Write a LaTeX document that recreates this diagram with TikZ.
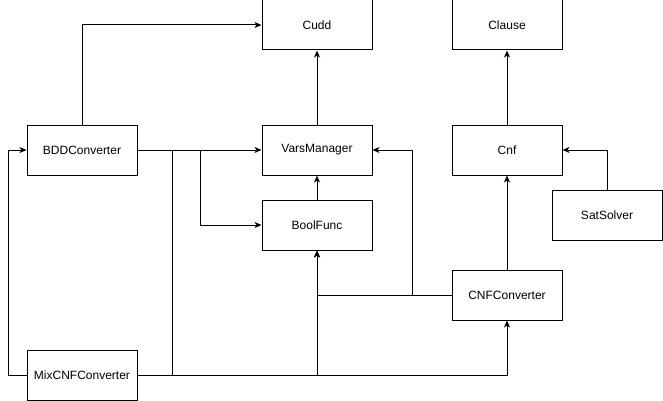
\documentclass[tikz,border=0pt]{standalone}
\usepackage{fontspec}
\setmainfont{Liberation Sans}
\usetikzlibrary{arrows.meta}

\begin{document}
\begin{tikzpicture}[x=1pt, y=-1pt, line width=1pt,
    font=\fontsize{12}{14}\selectfont,
    cls/.style={draw, fill=white, minimum width=110pt, minimum height=50pt, inner sep=0pt},
    dep/.style={-{Stealth[length=7pt, width=6pt, inset=2pt]}}]
    \useasboundingbox (0,0) rectangle (663,401);
    % classes
    \node[cls] (cudd) at (317,25) {Cudd};
    \node[cls] (clause) at (507,25) {Clause};
    \node[cls] (bdd) at (82,150) {BDDConverter};
    \node[cls] (vars) at (317,150) {VarsManager};
    \node[cls] (cnf) at (507,150) {Cnf};
    \node[cls] (bool) at (317,225) {BoolFunc};
    \node[cls] (sat) at (607,215) {SatSolver};
    \node[cls] (cnfconv) at (507,295) {CNFConverter};
    \node[cls] (mix) at (82,375) {MixCNFConverter};
    % junctions
    \coordinate (bddfork) at (200,150);
    \coordinate (mixup) at (172,375);
    \coordinate (cnfup) at (412,295);
    \coordinate (mixback) at (8,375);
    % dependencies
    \draw[dep] (bdd.north) |- (cudd.west);
    \draw[dep] (vars.north) -- (cudd.south);
    \draw[dep] (cnf.north) -- (clause.south);
    \draw[dep] (bdd.east) -- (vars.west);
    \draw[dep] (bddfork) |- (bool.west);
    \draw[dep] (bool.north) -- (vars.south);
    \draw[dep] (sat.north) |- (cnf.east);
    \draw[dep] (cnfconv.north) -- (cnf.south);
    \draw[dep] (cnfconv.west) -| (bool.south);
    \draw[dep] (cnfup) |- (vars.east);
    \draw[dep] (mix.east) -| (cnfconv.south);
    \draw[dep] (mix.east -| bool.south) -- (bool.south);
    \draw (mixup) -- (mixup |- bdd.east);
    \draw (mix.west) -- (mixback);
    \draw[dep] (mixback) |- (bdd.west);
\end{tikzpicture}
\end{document}
